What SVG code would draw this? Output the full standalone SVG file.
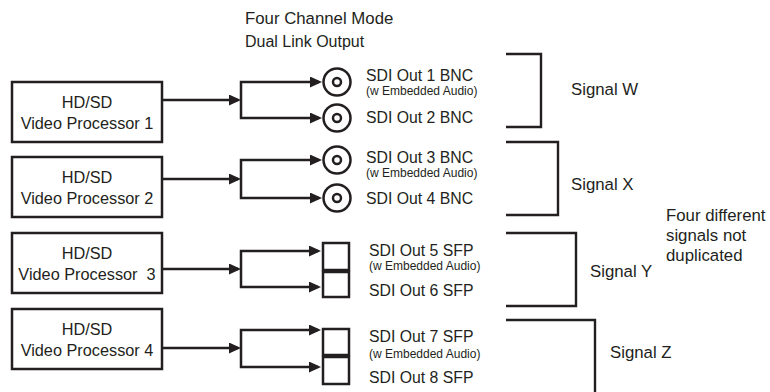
<svg xmlns="http://www.w3.org/2000/svg" width="770" height="392" viewBox="0 0 770 392">
<style>
text{font-family:"Liberation Sans",Arial,sans-serif;fill:#231f20}
.t{font-size:16.8px}
.st{font-size:16px}
.bx{font-size:16.3px;text-anchor:middle}
.lb{font-size:15.8px}
.sg{font-size:16.8px}
.sm{font-size:12px}
.box{fill:#fff;stroke:#231f20;stroke-width:2.5}
.ln{fill:none;stroke:#231f20;stroke-width:2.5}
.br{fill:none;stroke:#231f20;stroke-width:2.4}
.bnc{fill:#fff;stroke:#231f20;stroke-width:2.5}
</style>
<defs>
<marker id="ah" viewBox="0 0 12 11" markerWidth="12" markerHeight="11" refX="9" refY="5.5" orient="auto" markerUnits="userSpaceOnUse">
<path d="M0,0 L12,5.5 L0,11 Z" fill="#231f20"/>
</marker>
</defs>
<rect width="770" height="392" fill="#fff"/>
<g id="title">
<text class="t" x="245" y="24">Four Channel Mode</text>
<text class="st" x="245" y="47">Dual Link Output</text>
</g>
<g id="proc1">
<rect class="box" x="12" y="82" width="150" height="60"/>
<text class="bx" x="87" y="108">HD/SD</text>
<text class="bx" x="87" y="129">Video Processor 1</text>
</g>
<g id="proc2">
<rect class="box" x="12" y="157" width="150" height="60"/>
<text class="bx" x="87" y="183">HD/SD</text>
<text class="bx" x="87" y="204">Video Processor 2</text>
</g>
<g id="proc3">
<rect class="box" x="12" y="233" width="150" height="60"/>
<text class="bx" x="87" y="259">HD/SD</text>
<text class="bx" x="87" y="280" xml:space="preserve">Video Processor  3</text>
</g>
<g id="proc4">
<rect class="box" x="12" y="309" width="150" height="60"/>
<text class="bx" x="87" y="335">HD/SD</text>
<text class="bx" x="87" y="356">Video Processor 4</text>
</g>
<g id="connectors">
<path class="ln" d="M162,100 H238" marker-end="url(#ah)"/>
<path class="ln" d="M241,100 V82 H319" marker-end="url(#ah)"/>
<path class="ln" d="M241,100 V118 H319" marker-end="url(#ah)"/>
<path class="ln" d="M162,179 H238" marker-end="url(#ah)"/>
<path class="ln" d="M241,179 V160 H319" marker-end="url(#ah)"/>
<path class="ln" d="M241,179 V198 H319" marker-end="url(#ah)"/>
<path class="ln" d="M162,269 H238" marker-end="url(#ah)"/>
<path class="ln" d="M241,269 V251 H318" marker-end="url(#ah)"/>
<path class="ln" d="M241,269 V287 H318" marker-end="url(#ah)"/>
<path class="ln" d="M162,348 H238" marker-end="url(#ah)"/>
<path class="ln" d="M241,348 V330 H318" marker-end="url(#ah)"/>
<path class="ln" d="M241,348 V367 H318" marker-end="url(#ah)"/>
</g>
<g id="out1">
<circle class="bnc" cx="337" cy="82" r="13.5"/>
<circle class="bnc" cx="337" cy="82" r="4"/>
<text class="lb" x="366" y="81">SDI Out 1 BNC</text>
<text class="sm" x="366" y="95">(w Embedded Audio)</text>
</g>
<g id="out2">
<circle class="bnc" cx="337" cy="118" r="13.5"/>
<circle class="bnc" cx="337" cy="118" r="4"/>
<text class="lb" x="366" y="123">SDI Out 2 BNC</text>
</g>
<g id="out3">
<circle class="bnc" cx="337" cy="160" r="13.5"/>
<circle class="bnc" cx="337" cy="160" r="4"/>
<text class="lb" x="366" y="163">SDI Out 3 BNC</text>
<text class="sm" x="366" y="177">(w Embedded Audio)</text>
</g>
<g id="out4">
<circle class="bnc" cx="337" cy="198" r="13.5"/>
<circle class="bnc" cx="337" cy="198" r="4"/>
<text class="lb" x="366" y="204">SDI Out 4 BNC</text>
</g>
<g id="out5">
<rect class="box" x="323" y="243" width="26" height="27"/>
<text class="lb" x="369" y="256">SDI Out 5 SFP</text>
<text class="sm" x="369" y="270">(w Embedded Audio)</text>
</g>
<g id="out6">
<rect class="box" x="323" y="272" width="26" height="25"/>
<text class="lb" x="369" y="296">SDI Out 6 SFP</text>
</g>
<g id="out7">
<rect class="box" x="323" y="329" width="26" height="26"/>
<text class="lb" x="369" y="342">SDI Out 7 SFP</text>
<text class="sm" x="369" y="358">(w Embedded Audio)</text>
</g>
<g id="out8">
<rect class="box" x="323" y="357" width="26" height="27"/>
<text class="lb" x="369" y="383">SDI Out 8 SFP</text>
</g>
<g id="signalW">
<path class="br" d="M506,54 H541 V127 H506"/>
<text class="sg" x="571" y="95">Signal W</text>
</g>
<g id="signalX">
<path class="br" d="M506,142 H558 V215 H506"/>
<text class="sg" x="571" y="190">Signal X</text>
</g>
<g id="signalY">
<path class="br" d="M506,233 H576 V306 H506"/>
<text class="sg" x="590" y="277">Signal Y</text>
</g>
<g id="signalZ">
<path class="br" d="M506,320 H595 V394"/>
<text class="sg" x="610" y="358">Signal Z</text>
</g>
<g id="note">
<text class="sg" x="666" y="221">Four different</text>
<text class="sg" x="666" y="241">signals not</text>
<text class="sg" x="666" y="261">duplicated</text>
</g>
</svg>
